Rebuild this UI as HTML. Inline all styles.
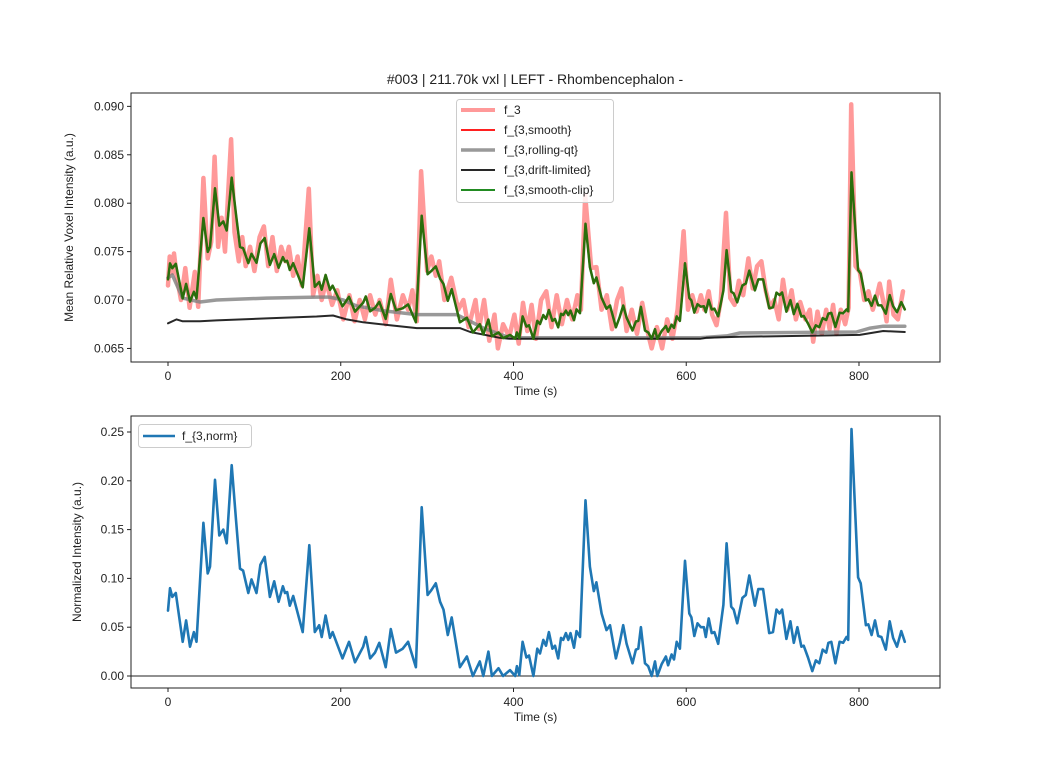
<!DOCTYPE html>
<html><head><meta charset="utf-8"><style>
body{margin:0;background:#fff;}
svg{display:block;font-family:"Liberation Sans","DejaVu Sans",sans-serif;}
</style></head><body>
<svg id="fig" width="1046" height="773" viewBox="0 0 1046 773">
<rect width="1046" height="773" fill="#fff"/>
<text x="535" y="84" font-size="14" text-anchor="middle" fill="#222">#003 | 211.70k vxl | LEFT - Rhombencephalon -</text>
<g id="top"></g>
<g id="bot"></g>
</svg>
<script>
// ---- data ----
const xTicks = [0, 200, 400, 600, 800];
const topYTicks = [0.065, 0.070, 0.075, 0.080, 0.085, 0.090];
const botYTicks = [0.00, 0.05, 0.10, 0.15, 0.20, 0.25];
const normT = [0,2.3,5,9,17,21,25.5,30,33,41,46,48.6,54.4,59.4,64,68,73.7,78.7,83.4,87,93,96.7,102.5,107,112,118,123,128,133,135.5,138,141,145,156,163.6,170,175,178,182.5,187.5,190.6,202,209.6,216.5,226,229,234,239.6,244.6,252,258,264,271.7,278,287,293.7,300.5,305,310,315,319,324,328.5,338,346,353,361,365,371,375,382.6,388,396,402,404,406.7,410.6,415,418,423,427.6,430.7,434.5,437.6,441,445,448,451.8,455,457.6,460.7,463.5,466,470,473,477,483.4,488.5,493,496,502,507.7,511.7,518.6,523,527,531,537.8,541.7,544.5,547.5,552.2,556,560,563.8,566.5,571.5,576.5,579,583,585.8,588.9,592.7,598.6,603.5,606,609.3,613,617,620.4,622.7,626,629.5,632.6,637,643,646.7,652,655,659,665,669,673,679.5,683.4,689,696,700.5,704.5,708,711,716,720.6,724.5,728.7,733.3,736,741,746,750,754,758,762,764.6,768,772.7,777.6,781.6,785.5,787.5,791.3,799,802,808,810.8,814.6,818.5,822.3,826,831,835.6,839.5,844,849,853];
const normV = [0.067,0.09,0.081,0.085,0.035,0.057,0.030,0.045,0.035,0.157,0.105,0.112,0.201,0.144,0.15,0.136,0.216,0.16,0.11,0.108,0.085,0.099,0.085,0.114,0.122,0.081,0.097,0.076,0.092,0.085,0.086,0.072,0.082,0.045,0.134,0.045,0.052,0.040,0.062,0.039,0.045,0.018,0.035,0.014,0.030,0.040,0.018,0.024,0.034,0.009,0.048,0.024,0.028,0.035,0.009,0.173,0.083,0.088,0.095,0.076,0.068,0.042,0.060,0.009,0.020,0,0.015,0,0.025,0,0.008,0,0.006,0,0.010,0.001,0.035,0.019,0.021,0,0.028,0.023,0.037,0.031,0.045,0.028,0.031,0.018,0.039,0.037,0.044,0.037,0.044,0.029,0.046,0.040,0.180,0.112,0.087,0.096,0.064,0.047,0.052,0.018,0.034,0.052,0.033,0.013,0.027,0.028,0.050,0.013,0.010,0,0.015,0,0.012,0.020,0.011,0.022,0.017,0.035,0.028,0.118,0.064,0.060,0.041,0.054,0.050,0.050,0.040,0.059,0.044,0.045,0.033,0.073,0.136,0.071,0.068,0.054,0.080,0.083,0.103,0.072,0.089,0.089,0.044,0.045,0.068,0.064,0.068,0.038,0.056,0.034,0.050,0.030,0.031,0.019,0.005,0.016,0.013,0.027,0.024,0.034,0.035,0.013,0.035,0.034,0.040,0.037,0.253,0.101,0.095,0.052,0.053,0.042,0.057,0.041,0.040,0.027,0.056,0.039,0.030,0.046,0.035];
const driftT = [0,10,17,37,56,114,172,191,207,226,257,288,338,350,384,396,560,616,623,662,801,828,853];
const driftV = [0.0676,0.0680,0.0678,0.0678,0.0679,0.0681,0.0683,0.0684,0.0680,0.0677,0.0674,0.0671,0.0671,0.0667,0.0661,0.0660,0.0660,0.0660,0.0661,0.0662,0.0664,0.0668,0.0667];
const rollT = [0,5,17,37,56,114,172,187,203,218,249,288,334,350,365,396,616,647,662,797,813,828,853];
const rollV = [0.0723,0.0726,0.0702,0.0698,0.0700,0.0702,0.0703,0.0703,0.0700,0.0694,0.0689,0.0685,0.0685,0.0678,0.0671,0.0661,0.0661,0.0663,0.0666,0.0667,0.0671,0.0673,0.0673];
const rawT = [0,2,5,7,10,15,20,25,31,35,41,46,50,54,58,62,66,73,77,82,86,90,95,100,106,111,116,121,126,131,136,140,145,150,155,163,168,173,178,183,190,196,203,210,216,222,228,234,240,245,252,258,265,272,278,283,288,293,300,305,310,314,320,328,336,342,348,356,360,366,372,378,382,388,395,401,406,411,416,421,426,432,438,444,450,456,462,468,474,478,483,490,496,502,508,514,520,525,531,537,543,549,555,560,566,572,578,584,590,597,602,607,612,617,621,626,630,635,640,646,651,656,661,666,672,677,682,687,692,697,702,707,712,717,722,727,732,738,743,747,752,757,762,766,770,774,779,784,788,791,796,801,806,811,816,820,824,829,832,835,840,845,851];
const rawV = [0.0715,0.0745,0.0728,0.0748,0.0725,0.0700,0.0733,0.0692,0.0729,0.0693,0.0826,0.0743,0.0760,0.0848,0.0755,0.0785,0.0750,0.0866,0.0770,0.0740,0.0765,0.0735,0.0755,0.0730,0.0765,0.0776,0.0735,0.0765,0.0730,0.0755,0.0740,0.0755,0.0725,0.0745,0.0715,0.0815,0.0705,0.0725,0.0700,0.0720,0.0695,0.0710,0.0680,0.0705,0.0678,0.0700,0.0680,0.0705,0.0685,0.0700,0.0675,0.0721,0.0680,0.0705,0.0690,0.0710,0.0678,0.0833,0.0730,0.0745,0.0725,0.0740,0.0700,0.0723,0.0690,0.0700,0.0672,0.0700,0.0670,0.0700,0.0658,0.0685,0.0650,0.0675,0.0662,0.0685,0.0655,0.0697,0.0668,0.0695,0.0660,0.0700,0.0709,0.0672,0.0705,0.0675,0.0700,0.0680,0.0705,0.0690,0.0808,0.0733,0.0734,0.0690,0.0705,0.0670,0.0700,0.0712,0.0668,0.0690,0.0665,0.0697,0.0668,0.0650,0.0672,0.0650,0.0680,0.0660,0.0690,0.0771,0.0690,0.0705,0.0688,0.0705,0.0690,0.0709,0.0685,0.0674,0.0700,0.0790,0.0702,0.0695,0.0720,0.0705,0.0743,0.0712,0.0735,0.0740,0.0710,0.0692,0.0700,0.0680,0.0721,0.0690,0.0710,0.0680,0.0698,0.0680,0.0690,0.0657,0.0688,0.0665,0.0690,0.0670,0.0695,0.0665,0.0690,0.0675,0.0692,0.0902,0.0735,0.0729,0.0700,0.0709,0.0690,0.0702,0.0717,0.0695,0.0678,0.0719,0.0685,0.0680,0.0709];

// ---- layout / scales ----
const X0 = 131, X1 = 940, XMIN = -42.84, XMAX = 893.8;
const T = {top:93, bot:362, min:0.06360, max:0.09138};
const B = {top:416, bot:688, min:-0.0123, max:0.2664};
const sx = t => X0 + (t - XMIN) / (XMAX - XMIN) * (X1 - X0);
const syT = v => T.bot - (v - T.min) / (T.max - T.min) * (T.bot - T.top);
const syB = v => B.bot - (v - B.min) / (B.max - B.min) * (B.bot - B.top);
const NS = "http://www.w3.org/2000/svg";
function el(tag, attrs, parent, txt) {
  const e = document.createElementNS(NS, tag);
  for (const k in attrs) e.setAttribute(k, attrs[k]);
  if (txt !== undefined) e.textContent = txt;
  parent.appendChild(e); return e;
}
function interp(ts, vs, t) {
  if (t <= ts[0]) return vs[0];
  for (let i = 1; i < ts.length; i++) if (t <= ts[i]) {
    const f = (t - ts[i-1]) / (ts[i] - ts[i-1]); return vs[i-1] + f * (vs[i] - vs[i-1]);
  }
  return vs[vs.length - 1];
}
function pathD(ts, vs, sy) {
  return ts.map((t, i) => (i ? "L" : "M") + sx(t).toFixed(1) + "," + sy(vs[i]).toFixed(1)).join(" ");
}
function axes(g, P, sy, yTicks, fmt, ylabel, name) {
  for (const t of xTicks) {
    const x = sx(t);
    const l = el("line", {x1:x, x2:x, y1:P.bot, y2:P.bot+4, stroke:"#222", "stroke-width":1}, g);
    
    
    const tx = el("text", {x:x, y:P.bot+18, "font-size":12, "text-anchor":"middle", fill:"#222"}, g, String(t));
    
    
  }
  for (const v of yTicks) {
    const y = sy(v);
    const l = el("line", {x1:X0-4, x2:X0, y1:y, y2:y, stroke:"#222", "stroke-width":1}, g);
    
    
    const tx = el("text", {x:X0-7, y:y+4, "font-size":12, "text-anchor":"end", fill:"#222"}, g, fmt(v));
    
    
  }
  const xl = el("text", {x:(X0+X1)/2, y:P.bot+33, "font-size":12, "text-anchor":"middle", fill:"#222"}, g, "Time (s)");
  
  
  const cy = (P.top + P.bot) / 2;
  const yl = el("text", {x:0, y:0, "font-size":12, "text-anchor":"middle", fill:"#222", transform:`translate(${name==='top'?73:81},${cy}) rotate(-90)`}, g, ylabel);
  
  
}
function frame(g, P, name) {
  const r = el("rect", {x:X0, y:P.top, width:X1-X0, height:P.bot-P.top, fill:"none", stroke:"#222", "stroke-width":1}, g);
  
  
}
function line(g, d, stroke, w, op, nm, clip) {
  const p = el("path", {d:d, fill:"none", stroke:stroke, "stroke-width":w, "stroke-opacity":op, "stroke-linejoin":"round", "stroke-linecap":"round", "clip-path":clip}, g);
  
  
  return p;
}

const svg = document.getElementById("fig");
const defs = el("defs", {}, svg);
const c1 = el("clipPath", {id:"ct"}, defs); el("rect", {x:X0, y:T.top, width:X1-X0, height:T.bot-T.top}, c1);
const c2 = el("clipPath", {id:"cb"}, defs); el("rect", {x:X0, y:B.top, width:X1-X0, height:B.bot-B.top}, c2);

// ---- top panel ----
const gT = document.getElementById("top");
const smoothV = normT.map((t, i) => interp(driftT, driftV, t) * (1 + normV[i]));
line(gT, pathD(rawT, rawV, syT), "#ff0000", 4.5, 0.4, "series-f3-raw", "url(#ct)");
line(gT, pathD(rollT, rollV, syT), "#808080", 3.5, 0.8, "series-rolling-qt", "url(#ct)");
line(gT, pathD(driftT, driftV, syT), "#111", 2, 0.9, "series-drift-limited", "url(#ct)");
line(gT, pathD(normT, smoothV, syT), "#ff2020", 2, 1, "series-smooth", "url(#ct)");
line(gT, pathD(normT, smoothV, syT), "#2a6e0c", 2.5, 1, "series-smooth-clip", "url(#ct)");
frame(gT, T, "top");
axes(gT, T, syT, topYTicks, v => v.toFixed(3), "Mean Relative Voxel Intensity (a.u.)", "top");

const lg = el("g", {}, gT);


el("rect", {x:456.5, y:99.5, width:157, height:103, rx:3, fill:"#fff", "fill-opacity":0.85, stroke:"#ccc"}, lg);
const legItems = [["f_3","#ff0000",4,0.4],["f_{3,smooth}","#ff2020",2,1],["f_{3,rolling-qt}","#808080",3.5,0.8],["f_{3,drift-limited}","#111",2,0.9],["f_{3,smooth-clip}","#228b22",2,1]];
legItems.forEach((it, i) => {
  const y = 110 + i * 20;
  const ge = el("g", {}, lg);
  
  
  el("line", {x1:461, x2:495, y1:y, y2:y, stroke:it[1], "stroke-width":it[2], "stroke-opacity":it[3]}, ge);
  el("text", {x:504, y:y+4, "font-size":12, fill:"#222"}, ge, it[0]);
});

// ---- bottom panel ----
const gB = document.getElementById("bot");
const zl = el("line", {x1:X0, x2:X1, y1:syB(0), y2:syB(0), stroke:"#222", "stroke-width":1}, gB);


line(gB, pathD(normT, normV, syB), "#1f77b4", 2.6, 1, "series-norm", "url(#cb)");
frame(gB, B, "bottom");
axes(gB, B, syB, botYTicks, v => v.toFixed(2), "Normalized Intensity (a.u.)", "bottom");
const lb = el("g", {}, gB);


el("rect", {x:138.5, y:424.5, width:113, height:23, rx:3, fill:"#fff", "fill-opacity":0.85, stroke:"#ccc"}, lb);
el("line", {x1:143, x2:175, y1:436, y2:436, stroke:"#1f77b4", "stroke-width":2.6}, lb);
el("text", {x:182, y:440, "font-size":12, fill:"#222"}, lb, "f_{3,norm}");
</script>
</body></html>
